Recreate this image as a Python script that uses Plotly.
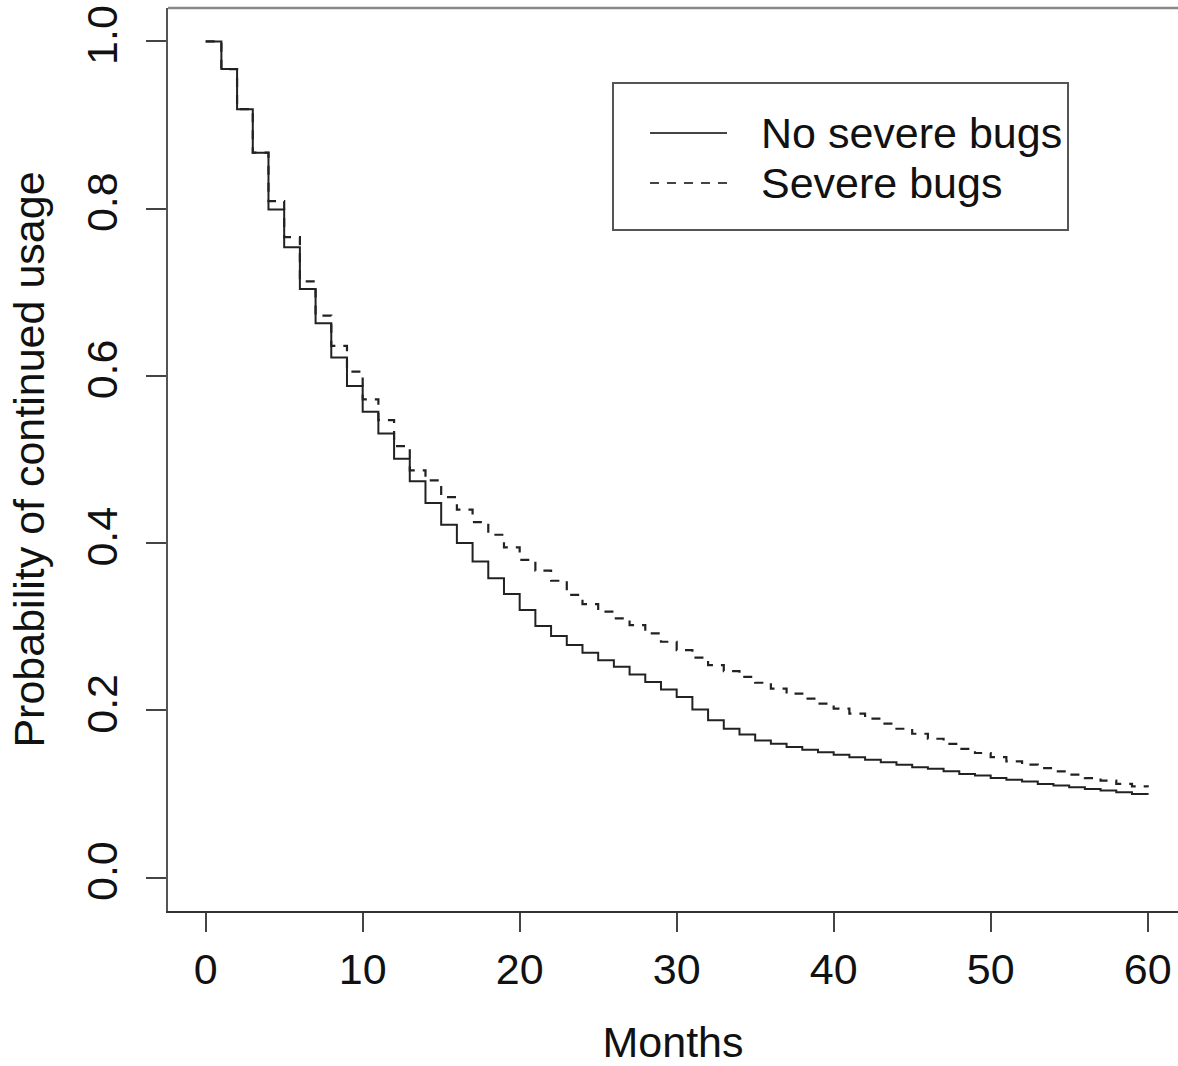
import plotly.graph_objects as go

# ---- data ----
months = list(range(0, 61))

no_severe = [1.000, 0.967, 0.919, 0.867, 0.799, 0.754, 0.704, 0.663, 0.622, 0.588,
             0.557, 0.531, 0.501, 0.474, 0.448, 0.422, 0.400, 0.378, 0.358, 0.339,
             0.320, 0.301, 0.289, 0.278, 0.269, 0.260, 0.252, 0.243, 0.234, 0.225,
             0.216, 0.201, 0.188, 0.178, 0.171, 0.164, 0.160, 0.156, 0.153, 0.150,
             0.147, 0.144, 0.141, 0.138, 0.135, 0.132, 0.130, 0.127, 0.124, 0.122,
             0.119, 0.117, 0.115, 0.112, 0.110, 0.108, 0.106, 0.104, 0.102, 0.100,
             0.099]

severe = [1.000, 0.967, 0.919, 0.867, 0.809, 0.766, 0.713, 0.672, 0.636, 0.605,
          0.572, 0.547, 0.516, 0.487, 0.475, 0.455, 0.440, 0.425, 0.410, 0.395,
          0.380, 0.367, 0.355, 0.338, 0.327, 0.318, 0.310, 0.302, 0.292, 0.282,
          0.272, 0.263, 0.254, 0.247, 0.240, 0.233, 0.226, 0.220, 0.214, 0.208,
          0.202, 0.196, 0.190, 0.184, 0.178, 0.172, 0.166, 0.160, 0.154, 0.149,
          0.144, 0.139, 0.135, 0.131, 0.127, 0.123, 0.119, 0.116, 0.112, 0.109,
          0.108]

series_names = ["No severe bugs", "Severe bugs"]
x_ticks = [0, 10, 20, 30, 40, 50, 60]
y_ticks = [0.0, 0.2, 0.4, 0.6, 0.8, 1.0]
y_tick_labels = ["0.0", "0.2", "0.4", "0.6", "0.8", "1.0"]
x_title = "Months"
y_title = "Probability of continued usage"

# ---- layout geometry (pixels) ----
W, H = 1178, 1066
L, T, B = 168, 8, 155
PW, PH = W - L, H - T - B
FONT = "Liberation Sans, Arial, Helvetica, sans-serif"
FS = 43
LINE_COL = "#222222"
DASH = "9px,8px"


def px_x(p):
    return (p - L) / PW


def px_y(p):
    return (H - B - p) / PH


fig = go.Figure()
fig.add_trace(go.Scatter(x=months, y=no_severe, mode="lines", line_shape="hv",
                         name=series_names[0], showlegend=False,
                         line=dict(color=LINE_COL, width=2)))
fig.add_trace(go.Scatter(x=months, y=severe, mode="lines", line_shape="hv",
                         name=series_names[1], showlegend=False,
                         line=dict(color=LINE_COL, width=2.2, dash=DASH)))

# manual legend (R-style)
shapes = [
    dict(type="rect", xref="paper", yref="paper",
         x0=px_x(613), x1=px_x(1068), y0=px_y(230), y1=px_y(83),
         line=dict(color="#555555", width=2), fillcolor="white", layer="above"),
    dict(type="line", xref="paper", yref="paper",
         x0=px_x(650), x1=px_x(727), y0=px_y(133), y1=px_y(133),
         line=dict(color="#444", width=2)),
    dict(type="line", xref="paper", yref="paper",
         x0=px_x(650), x1=px_x(727), y0=px_y(183), y1=px_y(183),
         line=dict(color="#444", width=2, dash=DASH)),
    # top frame line
    dict(type="line", xref="paper", yref="paper",
         x0=0, x1=1, y0=1, y1=1,
         line=dict(color="#888888", width=2.5)),
]
annotations = [
    dict(xref="paper", yref="paper", x=px_x(759), y=px_y(133),
         xanchor="left", yanchor="middle", showarrow=False,
         text=series_names[0], font=dict(family=FONT, size=FS, color="#111")),
    dict(xref="paper", yref="paper", x=px_x(759), y=px_y(183),
         xanchor="left", yanchor="middle", showarrow=False,
         text=series_names[1], font=dict(family=FONT, size=FS, color="#111")),
]

fig.update_layout(
    width=W, height=H,
    margin=dict(l=L, r=0, t=T, b=B, pad=0),
    paper_bgcolor="white", plot_bgcolor="white",
    font=dict(family=FONT, size=FS, color="#111"),
    shapes=shapes, annotations=annotations,
    showlegend=False,
)
fig.update_xaxes(
    range=[-2.4, -2.4 + PW / 15.7],
    tickmode="array", tickvals=x_ticks, ticktext=[str(v) for v in x_ticks],
    ticks="outside", ticklen=19, tickwidth=2, tickcolor="#444",
    showline=True, linecolor="#333", linewidth=2,
    showgrid=False, zeroline=False,
    tickfont=dict(family=FONT, size=FS, color="#111"),
    title=dict(text=x_title, font=dict(family=FONT, size=FS, color="#111"), standoff=35),
)
fig.update_yaxes(
    range=[-0.04, 1.04],
    tickmode="array", tickvals=y_ticks, ticktext=y_tick_labels,
    ticks="outside", ticklen=20, tickwidth=2, tickcolor="#444",
    showline=True, linecolor="#555", linewidth=2,
    showgrid=False, zeroline=False, tickangle=-90,
    ticklabelstandoff=12,
    tickfont=dict(family=FONT, size=FS, color="#111"),
    title=dict(text=y_title, font=dict(family=FONT, size=FS, color="#111"), standoff=20),
)

fig.write_html("out.html")
